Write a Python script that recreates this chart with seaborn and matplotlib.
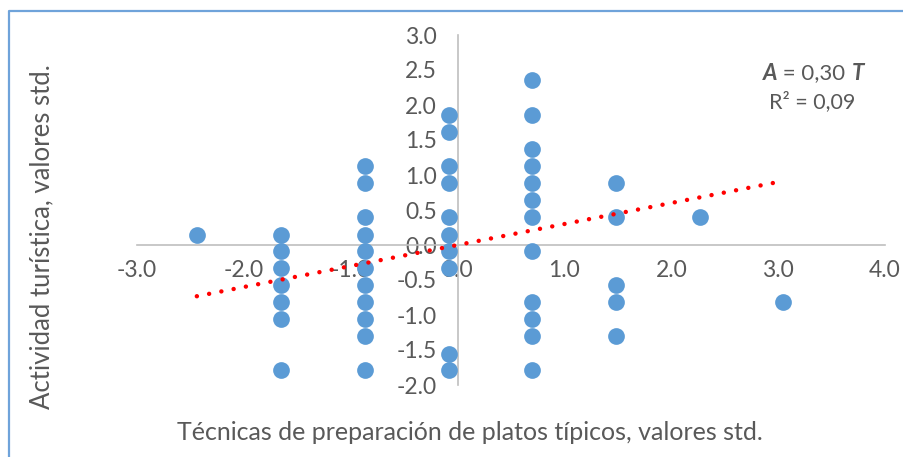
import matplotlib
matplotlib.use("Agg")
import matplotlib.pyplot as plt
import seaborn as sns
import pandas as pd
from matplotlib.lines import Line2D

# valores estandarizados
x_tecnicas = ([-2.44]
              + [-1.65] * 7
              + [-0.87] * 11
              + [-0.08] * 10
              + [0.70] * 12
              + [1.48] * 5
              + [2.27, 3.05])
y_actividad = ([0.15]
               + [0.15, -0.09, -0.33, -0.57, -0.82, -1.06, -1.79]
               + [1.13, 0.88, 0.40, 0.15, -0.09, -0.33, -0.57, -0.82, -1.06, -1.30, -1.79]
               + [1.86, 1.61, 1.13, 0.88, 0.40, 0.15, -0.09, -0.33, -1.55, -1.79]
               + [2.36, 1.86, 1.37, 1.13, 0.88, 0.64, 0.40, -0.09, -0.82, -1.06, -1.30, -1.79]
               + [0.88, 0.40, -0.57, -0.82, -1.30]
               + [0.40, -0.82])

pendiente = 0.30
r2 = 0.09
trend_x = [-2.44, 2.97]
x_ticks = [-3, -2, -1, 0, 1, 2, 3, 4]
y_ticks = [-2.0, -1.5, -1.0, -0.5, 0.0, 0.5, 1.0, 1.5, 2.0, 2.5, 3.0]

GRIS = "#595959"
AZUL = "#5B9BD5"

sns.set_style("white")
plt.rcParams['font.family'] = ['Lato', 'DejaVu Sans']

df = pd.DataFrame({'x': x_tecnicas, 'y': y_actividad})
trend = pd.DataFrame({'x': trend_x, 'y': [pendiente * v for v in trend_x]})

W, H = 904, 457
fig = plt.figure(figsize=(W / 100, H / 100), dpi=100)
ax = fig.add_axes([137 / W, 1 - 385 / H, (885 - 137) / W, (385 - 35) / H])

sns.scatterplot(data=df, x='x', y='y', ax=ax, color=AZUL, s=145,
                linewidth=0, zorder=3)
ax.plot(trend['x'], trend['y'], color='#FF0000', lw=3.2,
        linestyle=(0, (0.01, 2.8)), dash_capstyle='round', zorder=4)

ax.set_xlim(-3, 4)
ax.set_ylim(-2, 3)
ax.set_xticks(x_ticks)
ax.set_yticks(y_ticks)
ax.set_xticklabels([f"{v:.1f}" for v in x_ticks])
ax.set_yticklabels([f"{v:.1f}" for v in y_ticks])
ax.set_xlabel('')
ax.set_ylabel('')

for s in ['top', 'right']:
    ax.spines[s].set_visible(False)
ax.spines['left'].set_position(('data', 0))
ax.spines['bottom'].set_position(('data', 0))
for s in ['left', 'bottom']:
    ax.spines[s].set_color('#BFBFBF')
    ax.spines[s].set_linewidth(1.2)
    ax.spines[s].set_zorder(1)

ax.tick_params(axis='x', length=0, pad=11, labelsize=16.5, labelcolor=GRIS)
ax.tick_params(axis='y', length=0, pad=15, labelsize=16.5, labelcolor=GRIS)

# ecuacion de la tendencia
t1 = ax.text(763 / W, 1 - 73 / H, 'A', transform=fig.transFigure, fontsize=16,
             fontweight='bold', fontstyle='italic', color=GRIS, va='center', ha='left')
t2 = ax.annotate(f' = {pendiente:.2f} '.replace('.', ','), xy=(1, 0), xycoords=t1,
                 va='bottom', ha='left', fontsize=16, color=GRIS)
ax.annotate('T', xy=(1, 0), xycoords=t2, va='bottom', ha='left', fontsize=16,
            fontweight='bold', fontstyle='italic', color=GRIS)
fig.text(812 / W, 1 - 102 / H, f'R² = {r2:.2f}'.replace('.', ','), fontsize=15.5,
         color=GRIS, ha='center', va='center')

fig.text(470 / W, 1 - 432 / H, 'Técnicas de preparación de platos típicos, valores std.',
         fontsize=18, color=GRIS, ha='center', va='center')
fig.text(42 / W, 1 - 237 / H, 'Actividad turística, valores std.', rotation=90,
         fontsize=18.5, color=GRIS, ha='center', va='center')

# borde del area del grafico
fig.add_artist(Line2D([8.5 / W, 8.5 / W, 1], [0, 1 - 11 / H, 1 - 11 / H],
                      transform=fig.transFigure, color='#6FA3DA', lw=1.6))

fig.savefig('out.png', dpi=100, facecolor='white')
